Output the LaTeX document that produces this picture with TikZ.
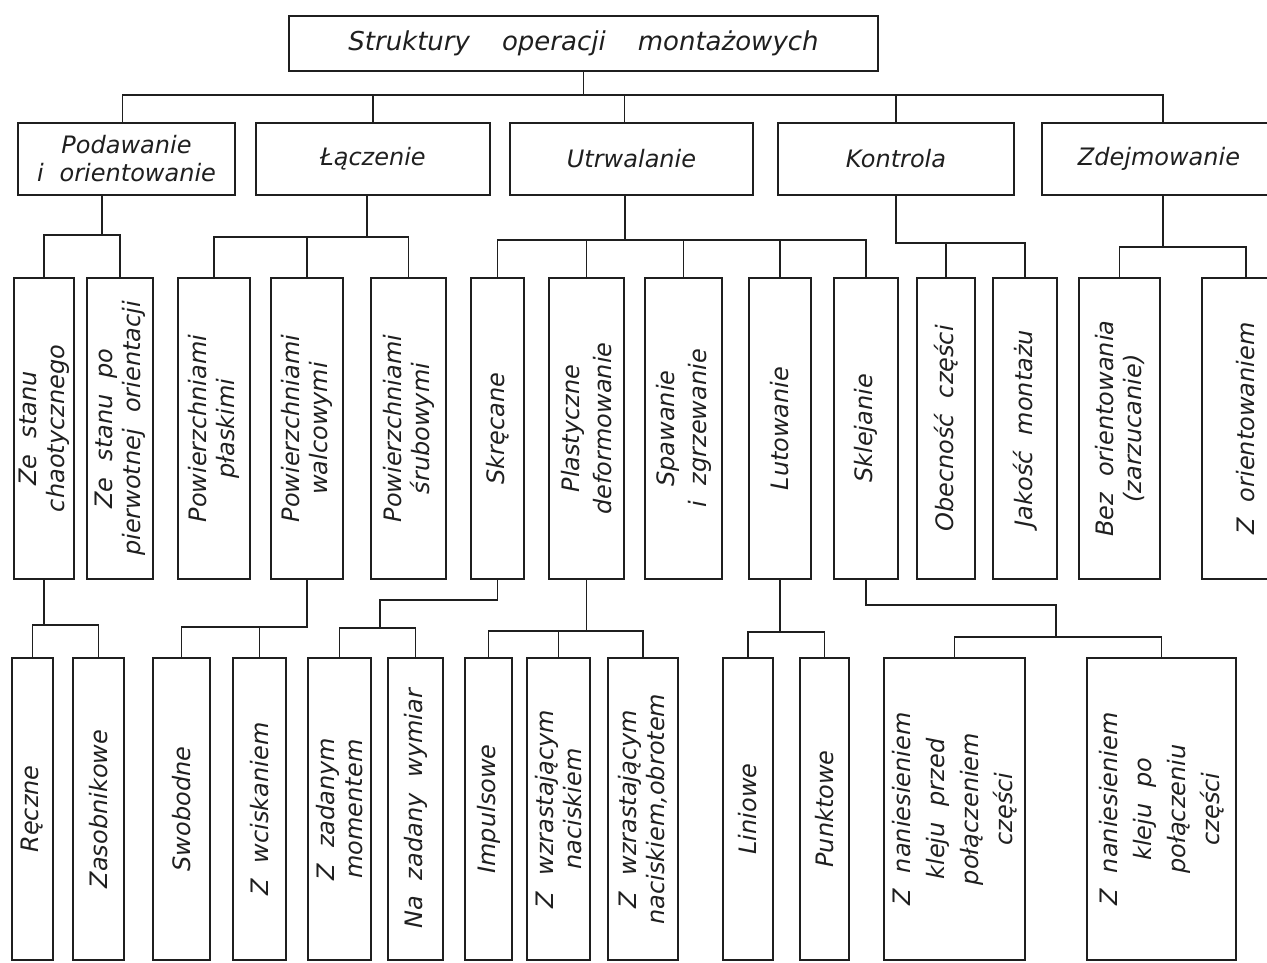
\documentclass[tikz,border=0pt]{standalone}
\usepackage{fontspec}
\setmainfont{DejaVu Sans}
\newcommand{\techfont}{\itshape\fontsize{24}{28}\selectfont\spaceskip=16pt plus 2pt minus 2pt\relax}
\newcommand{\titlefont}{\itshape\fontsize{26}{30}\selectfont\spaceskip=32pt plus 2pt minus 2pt\relax}

\begin{document}
\begin{tikzpicture}[x=1pt,y=-1pt,line width=1.4pt,color=black!88,
  hbox/.style={draw,line width=2pt,inner sep=2pt,align=center,font=\techfont},
  vbox/.style={draw,line width=2pt,inner sep=2pt,align=center,rotate=90,font=\techfont,minimum height=#1}]
\useasboundingbox (0,0) rectangle (1267,963);
\node[hbox,font=\titlefont,minimum width=589,minimum height=55] (root) at (583.5,43.5) {Struktury operacji montażowych};
% first level
\foreach \x/\w/\name/\lab in {126.5/217/pod/{Podawanie\\i orientowanie}, 373/234/lacz/Łączenie,
  631.5/243/utrw/Utrwalanie, 896/236/kontr/Kontrola, 1166/248/zdej/{Zdejmowanie\hspace*{14pt}}}
  \node[hbox,minimum width=\w,minimum height=72] (\name) at (\x,159) {\lab};
% second level
\foreach \x/\w/\name/\lab in {44/60/a1/{Ze stanu\\chaotycznego}, 120/66/a2/{Ze stanu po\\pierwotnej orientacji},
  214/72/b1/{Powierzchniami\\płaskimi}, 307/72/b2/{Powierzchniami\\walcowymi}, 408.5/75/b3/{Powierzchniami\\śrubowymi},
  497.5/53/c1/Skręcane, 586.5/75/c2/{Plastyczne\\[4pt]deformowanie}, 683.5/77/c3/{Spawanie\\[4pt]i zgrzewanie},
  780/62/c4/Lutowanie, 866/64/c5/Sklejanie, 946/58/d1/{Obecność części}, 1025/64/d2/{Jakość montażu},
  1119.5/81/e1/{Bez orientowania\\(zarzucanie)}, 1246/88/e2/{Z orientowaniem}}
  \node[vbox=\w,minimum width=301] (\name) at (\x,428.5) {\lab};
% third level
\foreach \x/\w/\name/\lab in {32.5/41/r1/Ręczne, 98.5/51/r2/Zasobnikowe, 181.5/57/s1/Swobodne,
  259.5/53/s2/{Z wciskaniem}, 339.5/63/t1/{Z zadanym\\momentem}, 415.5/55/t2/{Na zadany wymiar},
  488.5/47/u1/Impulsowe, 558.5/63/u2/{Z wzrastającym\\naciskiem}, 643/70/u3/{Z wzrastającym\\naciskiem,obrotem},
  748/50/v1/Liniowe, 824.5/49/v2/Punktowe,
  954.5/141/w1/{Z naniesieniem\\[6pt]kleju przed\\[6pt]połączeniem\\[6pt]części},
  1161.5/149/w2/{Z naniesieniem\\[6pt]kleju po\\[6pt]połączeniu\\[6pt]części}}
  \node[vbox=\w,minimum width=302] (\name) at (\x,809) {\lab};

% root to first level
\coordinate (busA) at (0,95);
\draw (root.south) -- (root.south |- busA);
\draw ([xshift=-4pt]pod.north) |- ([xshift=-3pt]zdej.north |- busA) -- ([xshift=-3pt]zdej.north);
\draw (lacz.north) -- (lacz.north |- busA);
\draw ([xshift=-7pt]utrw.north) -- ([xshift=-7pt]utrw.north |- busA);
\draw (kontr.north) -- (kontr.north |- busA);

% first level to second level
\coordinate (jpod) at (102,235);
\draw (jpod |- pod.south) -- (jpod);
\draw (a1.east) |- (jpod) -| (a2.east);
\coordinate (jlacz) at (367,237);
\draw (jlacz |- lacz.south) -- (jlacz);
\draw (b1.east) |- (b3.east |- jlacz) -- (b3.east);
\draw (b2.east) -- (b2.east |- jlacz);
\coordinate (jutrw) at (625,240);
\draw (jutrw |- utrw.south) -- (jutrw);
\draw (c1.east) |- (c5.east |- jutrw) -- (c5.east);
\foreach \n in {c2,c3,c4} \draw (\n.east) -- (\n.east |- jutrw);
\coordinate (jkontr) at (kontr.south |- 0,243);
\draw (kontr.south) -- (jkontr) -| (d2.east);
\draw (d1.east) -- (d1.east |- jkontr);
\coordinate (jzdej) at (1163,247);
\draw (jzdej |- zdej.south) -- (jzdej);
\draw (e1.east) |- (e2.east |- jzdej) -- (e2.east);

% second level to third level
\coordinate (ja1) at (a1.west |- 0,625);
\draw (a1.west) -- (ja1);
\draw (r1.east) |- (r2.east |- ja1) -- (r2.east);
\coordinate (jb2) at (b2.west |- 0,627);
\draw (b2.west) -- (jb2) -| (s1.east);
\draw (s2.east) -- (s2.east |- jb2);
\coordinate (jc1a) at (c1.west |- 0,600);
\coordinate (jc1b) at (380,628);
\draw (c1.west) -- (jc1a) -| (jc1b);
\draw (t1.east) |- (t2.east |- jc1b) -- (t2.east);
\coordinate (jc2) at (c2.west |- 0,631);
\draw (c2.west) -- (jc2);
\draw (u1.east) |- (u3.east |- jc2) -- (u3.east);
\draw (u2.east) -- (u2.east |- jc2);
\coordinate (jc4) at (c4.west |- 0,632);
\draw (c4.west) -- (jc4);
\draw (v1.east) |- (v2.east |- jc4) -- (v2.east);
\coordinate (jc5a) at (c5.west |- 0,605);
\coordinate (jc5b) at (1056,637);
\draw (c5.west) -- (jc5a) -| (jc5b);
\draw (w1.east) |- (w2.east |- jc5b) -- (w2.east);
\end{tikzpicture}
\end{document}
